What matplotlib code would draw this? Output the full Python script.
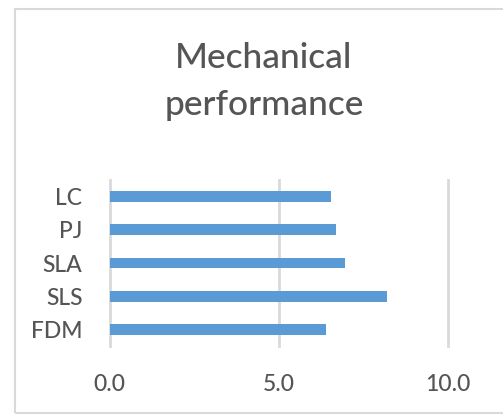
import matplotlib
matplotlib.use("Agg")
import matplotlib.pyplot as plt
from matplotlib.patches import Rectangle

categories = ["FDM", "SLS", "SLA", "PJ", "LC"]
values = [6.4, 8.2, 6.95, 6.7, 6.55]
x_ticks = [0.0, 5.0, 10.0]
x_tick_labels = ["0.0", "5.0", "10.0"]
title_lines = ["Mechanical", "performance"]

W, H = 503, 415
fig = plt.figure(figsize=(W / 100, H / 100), dpi=100)
fig.patch.set_facecolor("white")

plt.rcParams["font.family"] = ["Lato", "DejaVu Sans"]
plt.rcParams["font.weight"] = "medium"
text_color = "#555555"
grid_color = "#d9d9d9"
bar_color = "#5b9bd5"

# chart frame
fig.add_artist(Rectangle((15 / W, 1 - 413 / H), (W + 10 - 15) / W, (413 - 9) / H,
                         transform=fig.transFigure, fill=False,
                         edgecolor=grid_color, linewidth=1.5))

ax = fig.add_axes([109.5 / W, 1 - 346 / H, (448 - 109.5) / W, 166 / H])
ax.barh(range(len(categories)), values, height=0.32, color=bar_color, zorder=3)
ax.set_xlim(0, 10)
ax.set_ylim(-0.5, len(categories) - 0.5)
ax.set_xticks(x_ticks)
ax.set_xticklabels(x_tick_labels, fontsize=16.5, color=text_color, fontweight="medium")
ax.set_yticks(range(len(categories)))
ax.set_yticklabels(categories, fontsize=16.5, color=text_color, fontweight="medium")
ax.tick_params(axis="both", length=0)
ax.tick_params(axis="x", pad=20)
ax.tick_params(axis="y", pad=19.5)
for s in ax.spines.values():
    s.set_visible(False)
for xv in x_ticks:
    ax.axvline(xv, color=grid_color, linewidth=2, zorder=1, clip_on=False)

for line, base_y in zip(title_lines, [68, 115]):
    fig.text(264 / W, 1 - base_y / H, line, ha="center", va="baseline",
             fontsize=25.5, color=text_color, fontweight="medium")

fig.savefig("out.png", dpi=100)
